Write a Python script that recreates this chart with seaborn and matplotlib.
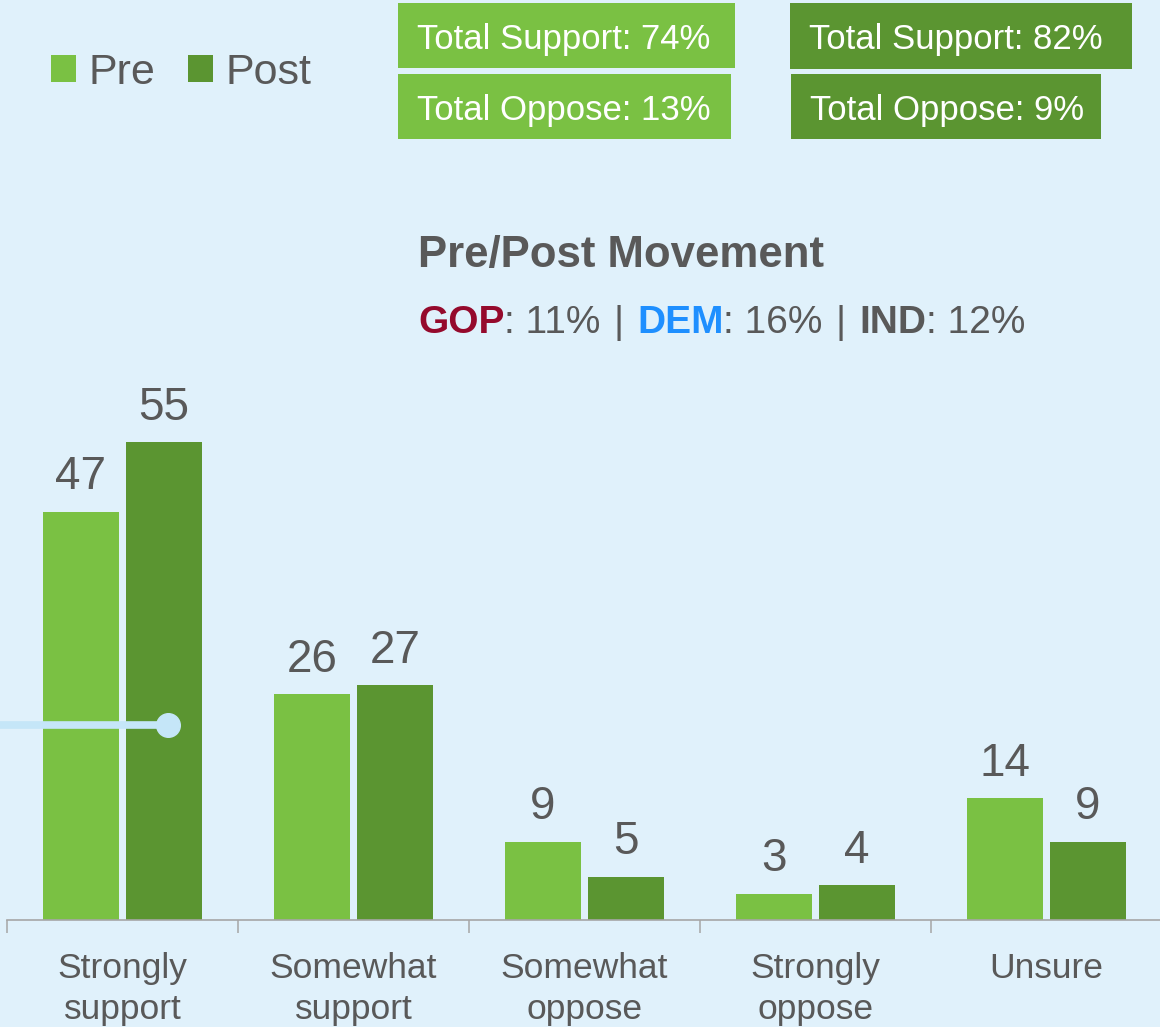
import pandas as pd
import matplotlib.pyplot as plt
import numpy as np
import seaborn as sns
from matplotlib.patches import Rectangle
from matplotlib.lines import Line2D

# data
responses = ['Strongly\nsupport', 'Somewhat\nsupport', 'Somewhat\noppose', 'Strongly\noppose', 'Unsure']
waves = ['Pre', 'Post']
pre_vals = [47, 26, 9, 3, 14]
post_vals = [55, 27, 5, 4, 9]
support_totals = [74, 82]   # Pre, Post
oppose_totals = [13, 9]
party_names = ['GOP', 'DEM', 'IND']
party_moves = [11, 16, 12]

# colours
BG = '#e0f1fb'
LIGHT = '#7ac143'
DARK = '#5b9531'
GREY = '#595959'
party_colors = ['#950a2c', '#1e8fff', GREY]

sns.set_theme(style='white')
plt.rcParams['font.family'] = ['Liberation Sans', 'DejaVu Sans']

df = pd.DataFrame({
    'response': responses * 2,
    'wave': ['Pre'] * len(responses) + ['Post'] * len(responses),
    'pct': pre_vals + post_vals,
})

W, H = 1160, 1027
fig = plt.figure(figsize=(W / 100, H / 100), dpi=100, facecolor=BG)

def fx(px):
    return px / W

def fy(py):
    return 1 - py / H

# axes: baseline at y=920px, 231px per category
ax = fig.add_axes([fx(7), fy(920), 1155 / W, 540 / H])
ax.set_facecolor(BG)
sns.barplot(data=df, x='response', y='pct', hue='wave', hue_order=waves,
            order=responses, palette=[LIGHT, DARK], saturation=1,
            width=0.719, gap=0.096, errorbar=None, linewidth=0, ax=ax)

for cont in ax.containers:
    ax.bar_label(cont, fmt='%.0f', padding=9, fontsize=33, color=GREY)

ax.set_xlim(-0.5, len(responses) - 0.5)
ax.set_ylim(0, 540 / 8.69)
ax.set_xlabel('')
ax.set_ylabel('')
ax.set_yticks([])
for s in ['left', 'right', 'top']:
    ax.spines[s].set_visible(False)
ax.spines['bottom'].set_color('#a6a6a6')
ax.spines['bottom'].set_linewidth(1.2)

ax.set_xticks(np.arange(-0.5, len(responses), 1), minor=True)
ax.tick_params(axis='x', which='minor', bottom=True, length=9.5, width=1.1,
               color='#a6a6a6', direction='out')
ax.tick_params(axis='x', which='major', length=0, pad=23, labelsize=25.5,
               labelcolor=GREY)
for lbl in ax.get_xticklabels():
    lbl.set_linespacing(1.3)

# legend
handles, labels = ax.get_legend_handles_labels()
ax.get_legend().remove()
fig.legend(handles, labels, loc='upper left', bbox_to_anchor=(fx(51), fy(53)),
           ncol=2, frameon=False, fontsize=31, handlelength=0.58,
           handleheight=0.58, handletextpad=0.3, columnspacing=0.75,
           borderpad=0, borderaxespad=0, labelcolor=GREY)

# total boxes
boxes = [
    (398, 3, 337, 65, LIGHT, f'Total Support: {support_totals[0]}%'),
    (398, 74, 333, 65, LIGHT, f'Total Oppose: {oppose_totals[0]}%'),
    (790, 3, 342, 66, DARK, f'Total Support: {support_totals[1]}%'),
    (791, 74, 310, 65, DARK, f'Total Oppose: {oppose_totals[1]}%'),
]
for x0, y0, w, h, c, txt in boxes:
    fig.add_artist(Rectangle((fx(x0), fy(y0 + h)), w / W, h / H,
                             transform=fig.transFigure, facecolor=c,
                             edgecolor='none'))
    fig.text(fx(x0 + 19), fy(y0 + 46), txt, color='white', fontsize=25,
             va='baseline', ha='left')

# movement title
fig.text(fx(418), fy(267), 'Pre/Post Movement', fontsize=31.5,
         fontweight='bold', color=GREY, va='baseline')

# coloured party line, pieces chained left to right
pieces = []
for i, (name, val, col) in enumerate(zip(party_names, party_moves, party_colors)):
    pieces.append((name, col, 'bold'))
    pieces.append((f': {val}%', GREY, 'normal'))
    if i < len(party_names) - 1:
        pieces.append(('\u2004|\u2004', GREY, 'normal'))

prev = None
for txt, col, fw in pieces:
    if prev is None:
        prev = fig.text(fx(418), fy(341), txt, fontsize=28, color=col,
                        fontweight=fw, va='bottom', ha='left')
    else:
        prev = ax.annotate(txt, xy=(1, 0), xycoords=prev, fontsize=28,
                           color=col, fontweight=fw, va='bottom', ha='left',
                           annotation_clip=False)

# slider decoration over first bars
fig.add_artist(Line2D([0, fx(168)], [fy(725), fy(725)], transform=fig.transFigure,
                      color='#c5e6f8', lw=5.5, solid_capstyle='butt', zorder=5))
fig.add_artist(Line2D([fx(168)], [fy(725)], transform=fig.transFigure,
                      marker='o', markersize=17, color='#c5e6f8', zorder=5))

plt.savefig('out.png', dpi=100, facecolor=BG)
